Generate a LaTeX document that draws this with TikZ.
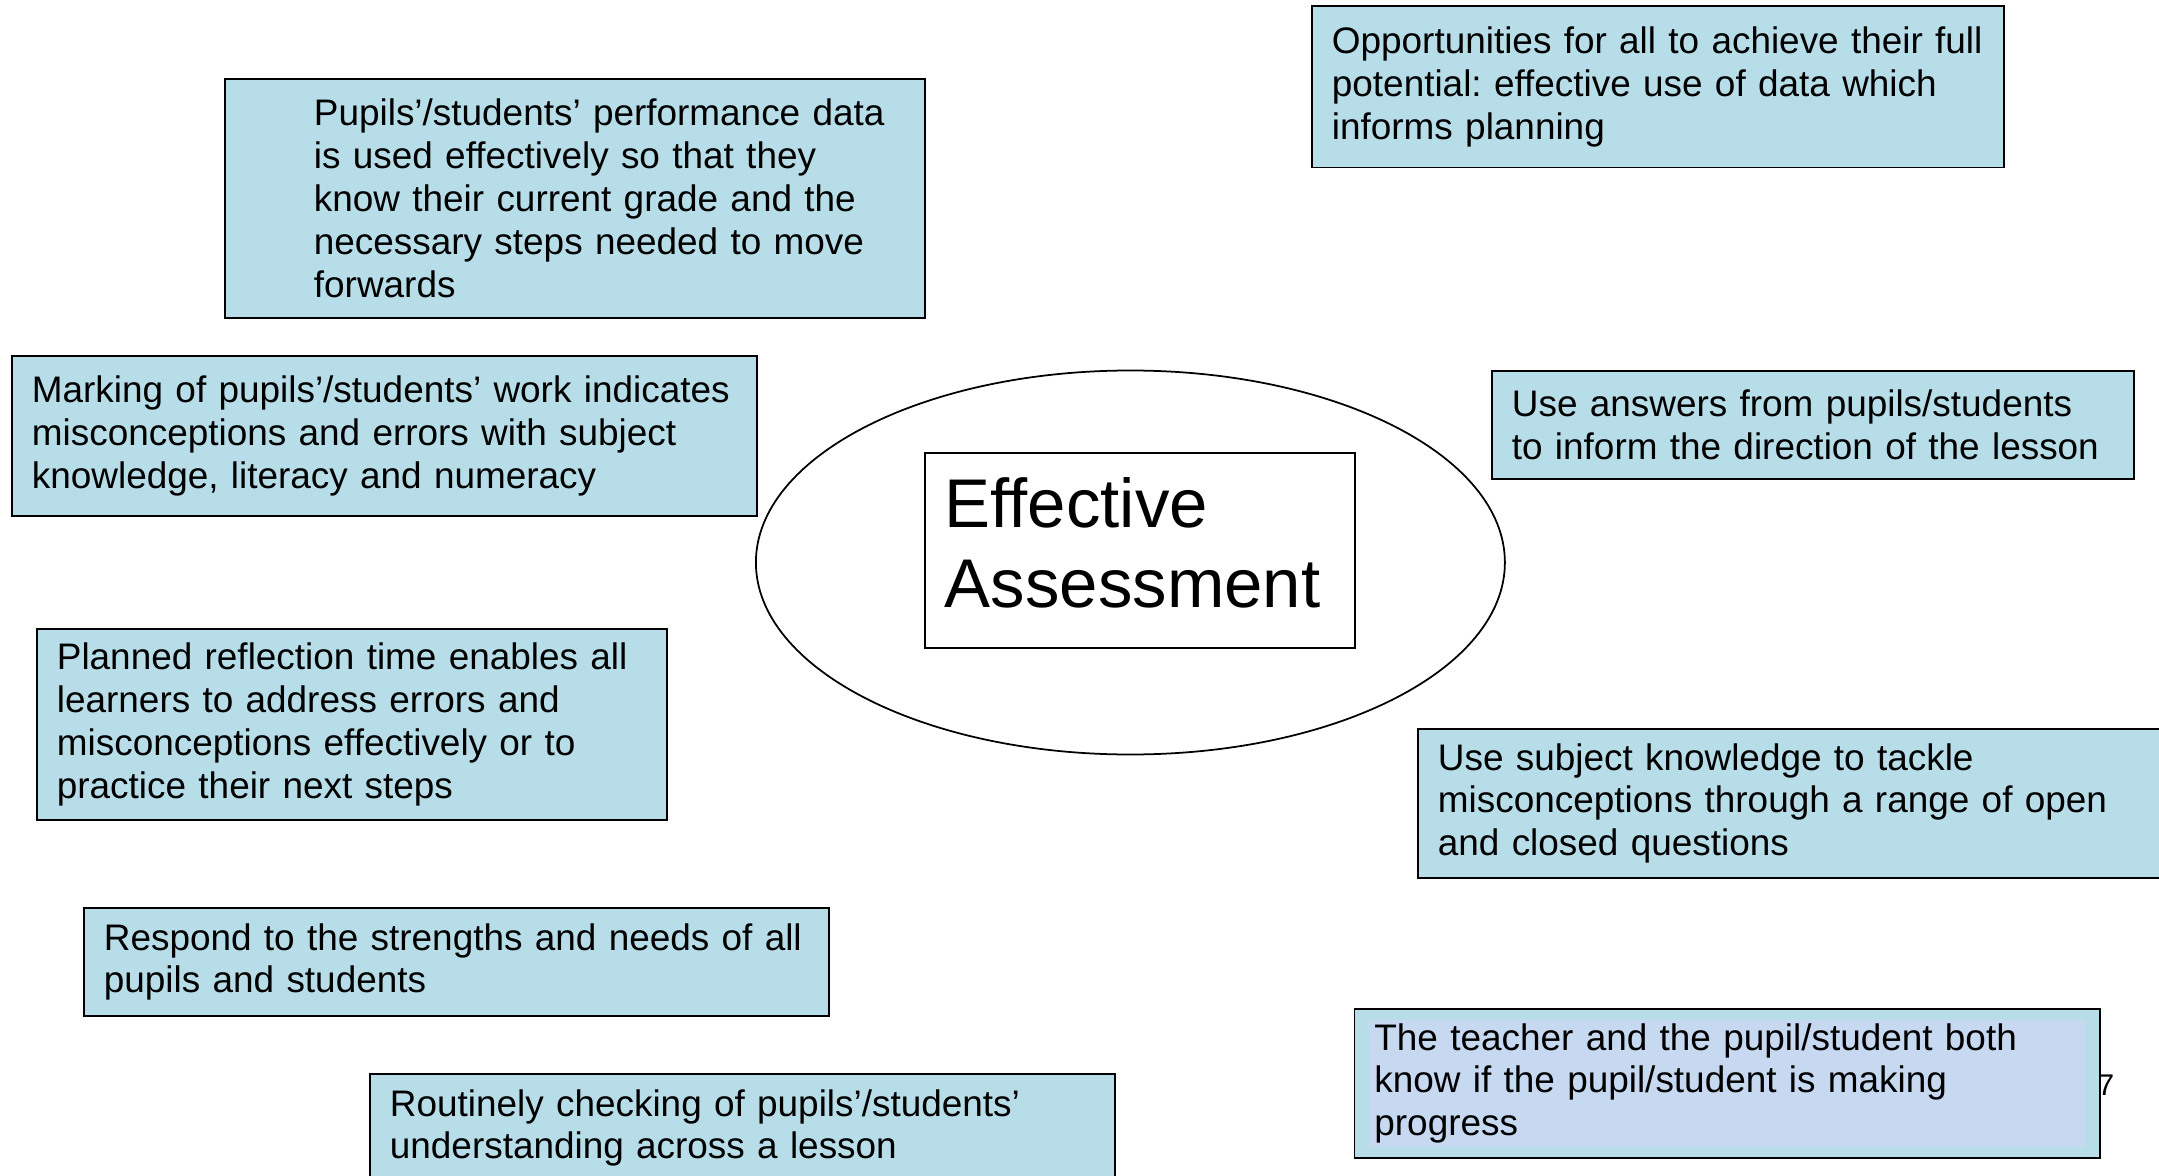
\documentclass[tikz,border=0pt]{standalone}
\usepackage{fontspec}
\setmainfont{Liberation Sans}
\usetikzlibrary{positioning}

\definecolor{cardblue}{HTML}{B7DDE8}
\definecolor{cardinner}{HTML}{C6D9F1}

\begin{document}
\frenchspacing
\begin{tikzpicture}[x=0.01cm, y=-0.01cm,
    card/.style={draw, line width=0.5pt, fill=cardblue, anchor=north west, align=left,
      inner xsep=0.2cm, inner ysep=0pt, font=\fontsize{10.5}{12.2}\selectfont}]
        \useasboundingbox (0, 0) rectangle (2159, 1176);
        \fill [white] (0, 0) rectangle (2159, 1176);

        \coordinate (hub) at (1130.4, 562.5);
        \draw [line width=0.5pt] (hub) ellipse [x radius=374.5, y radius=192];
        \node [draw, line width=0.5pt, fill=white, anchor=north west, align=left, inner xsep=0.2cm,
          text width=3.9cm, minimum height=1.95cm, font=\fontsize{19.6}{22.7}\selectfont]
          (core) at (924, 452) {Effective\\Assessment\rule[-4.6pt]{0pt}{0pt}};

        \node [card, text width=6.6cm, minimum height=2.39cm] (perf) at (224, 78)
          {\leftskip=0.69cm Pupils’/students’ performance data\\is used effectively so that they\\know their current grade and the\\necessary steps needed to move\\forwards\par};
        \node [card, text width=6.52cm, minimum height=1.61cm] (oppo) at (1311, 5.5)
          {Opportunities for all to achieve their full\\potential: effective use of data which\\informs planning};
        \node [card, text width=7.05cm, minimum height=1.6cm] (marking) at (11, 355)
          {Marking of pupils’/students’ work indicates\\misconceptions and errors with subject\\knowledge, literacy and numeracy};
        \node [card, text width=6.02cm, minimum height=1.08cm] (answers) at (1491, 370)
          {Use answers from pupils/students\\to inform the direction of the lesson};
        \node [card, text width=5.9cm, minimum height=1.91cm] (reflect) at (36, 628)
          {Planned reflection time enables all\\learners to address errors and\\misconceptions effectively or to\\practice their next steps};
        \node [card, text width=7.6cm, minimum height=1.49cm] (subject) at (1417, 728)
          {Use subject knowledge to tackle\\misconceptions through a range of open\\and closed questions};
        \node [card, text width=7.05cm, minimum height=1.08cm] (respond) at (83, 907)
          {Respond to the strengths and needs of all\\pupils and students};

        % slide number, partly hidden behind the last card
        \node [font=\fontsize{8.5}{10}\selectfont] (pagenum) at (2106, 1085) {7};
        \node [card, text width=7.05cm, minimum height=1.49cm,
          path picture={\fill [cardinner] ([xshift=0.15cm, yshift=-0.11cm]path picture bounding box.north west)
            rectangle ([xshift=-0.15cm, yshift=0.11cm]path picture bounding box.south east);}]
          (progress) at (1353.5, 1008)
          {The teacher and the pupil/student both\\know if the pupil/student is making\\progress};
        \node [card, text width=7.05cm, minimum height=1.08cm] (routine) at (369, 1073)
          {Routinely checking of pupils’/students’\\understanding across a lesson};
      \end{tikzpicture}
\end{document}
